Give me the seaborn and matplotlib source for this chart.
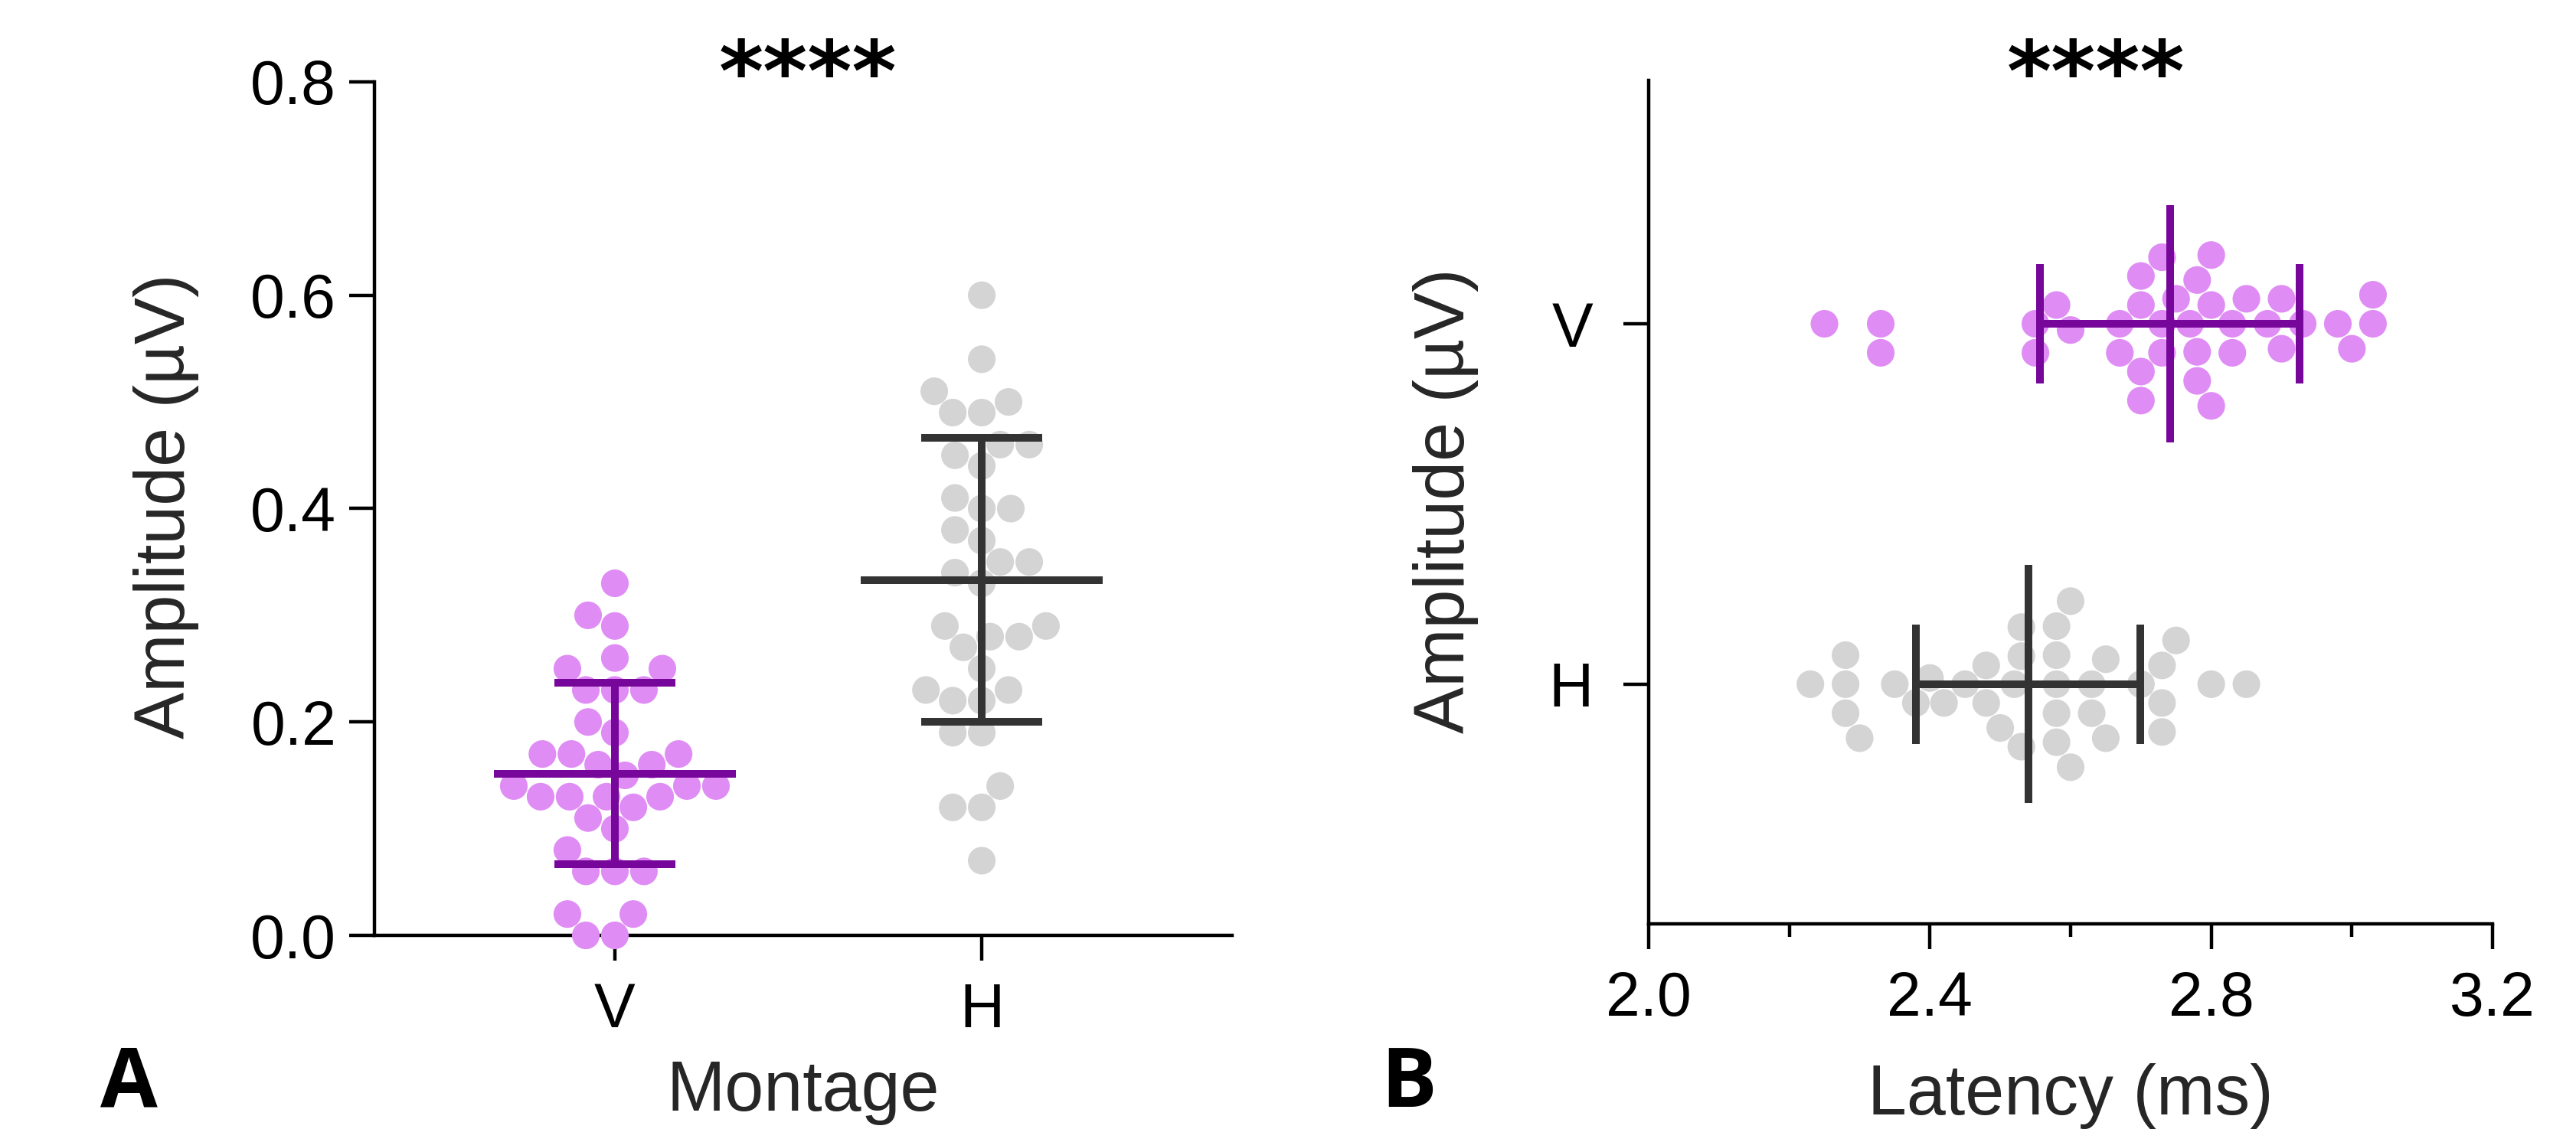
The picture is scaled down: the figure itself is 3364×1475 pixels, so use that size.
import matplotlib
matplotlib.use("Agg")
import matplotlib.pyplot as plt
from matplotlib.ticker import FixedLocator, FormatStrFormatter
import pandas as pd
import seaborn as sns

groups = ["V", "H"]

# amplitude (uV) per montage
amp_v = [0.33, 0.30, 0.29, 0.26, 0.25, 0.25, 0.23, 0.23, 0.23, 0.20, 0.19,
         0.16, 0.16, 0.17, 0.17, 0.17, 0.15, 0.14, 0.14, 0.14, 0.13, 0.13,
         0.13, 0.13, 0.12, 0.11, 0.10, 0.08, 0.06, 0.06, 0.06, 0.02, 0.02,
         0.00, 0.00]
amp_h = [0.60, 0.54, 0.51, 0.50, 0.49, 0.49, 0.46, 0.46, 0.45, 0.44, 0.41,
         0.40, 0.40, 0.38, 0.37, 0.35, 0.35, 0.34, 0.33, 0.29, 0.29, 0.28,
         0.28, 0.27, 0.25, 0.23, 0.23, 0.22, 0.22, 0.19, 0.19, 0.14, 0.12,
         0.12, 0.07]

# latency (ms) per montage
lat_v = [2.70, 2.80,
         2.70, 2.78,
         2.33, 2.58, 2.67, 2.73, 2.77, 2.83, 2.90, 3.03,
         2.25, 2.55, 2.60, 2.70, 2.78, 2.83, 2.90, 3.00,
         2.33, 2.55, 2.67, 2.73, 2.78, 2.88, 2.93, 2.98, 3.03,
         2.73, 2.80, 2.85,
         2.70, 2.75, 2.80]
lat_h = [2.60,
         2.28, 2.53, 2.58, 2.63, 2.70, 2.75,
         2.28, 2.42, 2.48, 2.52, 2.58, 2.65,
         2.23, 2.30, 2.35, 2.40, 2.45, 2.50, 2.58, 2.65, 2.73, 2.80, 2.85,
         2.28, 2.38, 2.48, 2.53, 2.58, 2.73,
         2.53, 2.58, 2.63, 2.73,
         2.60]

amp_ticks = [0.0, 0.2, 0.4, 0.6, 0.8]
lat_major = [2.0, 2.4, 2.8, 3.2]
lat_minor = [2.2, 2.6, 3.0]

dot_colors = {"V": "#DF8DF4", "H": "#D4D4D4"}
bar_colors = {"V": "#77069A", "H": "#333333"}

sns.set_theme(style="ticks")
plt.rcParams["font.family"] = ["Liberation Sans", "DejaVu Sans"]
plt.rcParams["axes.linewidth"] = 1.6

amp_df = pd.DataFrame({"Montage": ["V"] * len(amp_v) + ["H"] * len(amp_h),
                       "Amplitude": amp_v + amp_h})
lat_df = pd.DataFrame({"Montage": ["V"] * len(lat_v) + ["H"] * len(lat_h),
                       "Latency": lat_v + lat_h})


def mean_sd(ax, df, col, horizontal):
    stats = df.groupby("Montage")[col].agg(["mean", "std"])
    kw = dict(linewidth=3.6, capstyle="butt", zorder=5)
    for i, g in enumerate(groups):
        m, s = stats.loc[g, "mean"], stats.loc[g, "std"]
        c = bar_colors[g]
        if horizontal:
            ax.vlines(m, i - 0.33, i + 0.33, color=c, **kw)
            ax.hlines(i, m - s, m + s, color=c, **kw)
            ax.vlines([m - s, m + s], i - 0.165, i + 0.165, color=c, **kw)
        else:
            ax.hlines(m, i - 0.33, i + 0.33, color=c, **kw)
            ax.vlines(i, m - s, m + s, color=c, **kw)
            ax.hlines([m - s, m + s], i - 0.165, i + 0.165, color=c, **kw)


fig = plt.figure(figsize=(16.82, 7.375), dpi=200)
ax_a = fig.add_axes([0.1454, 0.1715, 0.333, 0.756])
ax_b = fig.add_axes([0.640, 0.1817, 0.3276, 0.747])

# panel A
sns.swarmplot(data=amp_df, x="Montage", y="Amplitude", hue="Montage",
              order=groups, hue_order=groups, palette=dot_colors,
              size=13, linewidth=0, legend=False, ax=ax_a)
for c in ax_a.collections:
    c.set_clip_on(False)
mean_sd(ax_a, amp_df, "Amplitude", horizontal=False)
ax_a.set_xlim(-0.655, 1.683)
ax_a.set_ylim(0, 0.8)
ax_a.yaxis.set_major_locator(FixedLocator(amp_ticks))
ax_a.yaxis.set_major_formatter(FormatStrFormatter("%.1f"))
ax_a.set_xlabel("Montage", fontsize=33, va="center")
ax_a.set_ylabel("Amplitude (µV)", fontsize=33, va="center")
ax_a.xaxis.set_label_coords(0.5, -0.184)
ax_a.yaxis.set_label_coords(-0.243, 0.503)

# panel B
sns.swarmplot(data=lat_df, x="Latency", y="Montage", hue="Montage",
              order=groups, hue_order=groups, palette=dot_colors, orient="h",
              size=13, linewidth=0, legend=False, ax=ax_b)
for c in ax_b.collections:
    c.set_clip_on(False)
mean_sd(ax_b, lat_df, "Latency", horizontal=True)
ax_b.set_xlim(2.0, 3.2)
ax_b.set_ylim(1.665, -0.675)
ax_b.xaxis.set_major_locator(FixedLocator(lat_major))
ax_b.xaxis.set_minor_locator(FixedLocator(lat_minor))
ax_b.xaxis.set_major_formatter(FormatStrFormatter("%.1f"))
ax_b.set_xlabel("Latency (ms)", fontsize=33, va="center")
ax_b.set_ylabel("Amplitude (µV)", fontsize=33, va="center")
ax_b.xaxis.set_label_coords(0.5, -0.204)
ax_b.yaxis.set_label_coords(-0.2405, 0.502)

for ax in (ax_a, ax_b):
    sns.despine(ax=ax)
    ax.tick_params(which="major", length=12, width=1.6, color="black",
                   labelsize=29, pad=6, labelcolor="black")
    ax.tick_params(which="minor", length=6, width=1.6, color="black")
    ax.spines["left"].set_color("black")
    ax.spines["bottom"].set_color("black")
ax_a.tick_params(axis="x", pad=10)
ax_b.tick_params(axis="x", which="major", pad=10)
ax_b.tick_params(axis="y", pad=14)

# significance stars and panel letters
star_kw = dict(fontsize=40, fontweight="bold", family="DejaVu Sans",
               ha="center", va="baseline", color="black")
fig.text(1055 / 3364, 1 - 132 / 1475, "****", **star_kw)
fig.text(2737 / 3364, 1 - 132 / 1475, "****", **star_kw)
letter_kw = dict(fontsize=39, fontweight="bold", family="Open Sans",
                 ha="center", va="center", color="black")
fig.text(168 / 3364, 1 - 1418 / 1475, "A", **letter_kw)
fig.text(1840 / 3364, 1 - 1418 / 1475, "B", **letter_kw)

fig.savefig("out.png", dpi=200)
